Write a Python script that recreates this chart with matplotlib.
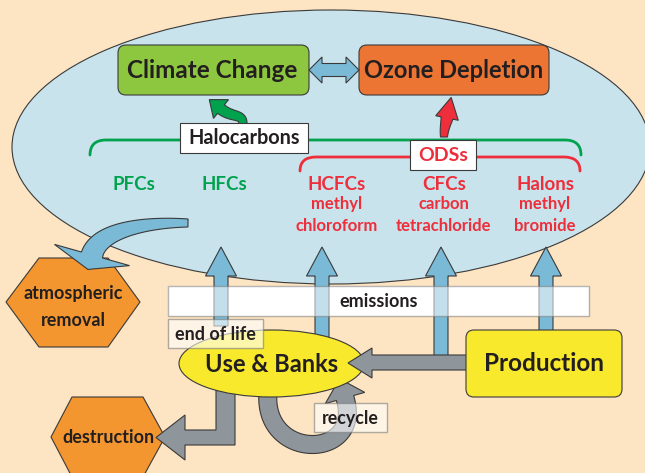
import numpy as np
import matplotlib
matplotlib.use("Agg")
import matplotlib.pyplot as plt
from matplotlib.patches import Ellipse, FancyBboxPatch, Polygon, Rectangle, PathPatch
from matplotlib.path import Path

plt.rcParams['font.family'] = ['Lato', 'DejaVu Sans']

# --- labels of the diagram ---
effects = ["Climate Change", "Ozone Depletion"]
groups = ["Halocarbons", "ODSs"]
gases = ["PFCs", "HFCs", "HCFCs", "CFCs", "Halons"]
gas_sub1 = ["", "", "methyl", "carbon", "methyl"]
gas_sub2 = ["", "", "chloroform", "tetrachloride", "bromide"]
gas_is_ods = [False, False, True, True, True]
stocks = ["Use & Banks", "Production"]
sinks = [["atmospheric", "removal"], ["destruction"]]
flows = ["emissions", "end of life", "recycle"]

# --- colours ---
BG = "#FDE4C2"
SKY = "#C9E3EC"
BLUE = "#7BBAD6"
GREEN_BOX = "#8DC63F"
ORANGE_BOX = "#EC7534"
HEX = "#F3962F"
YELLOW = "#F8E92C"
GREY = "#8E959B"
GREEN = "#00A24E"
RED = "#EE2E3B"
INK = "#231F20"
EDGE = "#3A3A3A"


def bez(p, n=80):
    p = np.asarray(p, float)
    t = np.linspace(0, 1, n)[:, None]
    return ((1 - t) ** 3 * p[0] + 3 * (1 - t) ** 2 * t * p[1]
            + 3 * (1 - t) * t ** 2 * p[2] + t ** 3 * p[3])


def thick_arrow(ax, ctrl, w0, w1, head_w, head_len, color, z, alpha=1.0):
    # shaft follows a cubic bezier, head continues along the last tangent
    c = bez(ctrl)
    d = np.gradient(c, axis=0)
    d /= np.linalg.norm(d, axis=1)[:, None]
    nrm = np.column_stack([-d[:, 1], d[:, 0]])
    w = np.linspace(w0, w1, len(c))[:, None] / 2
    left = c + nrm * w
    right = c - nrm * w
    end, tan, nn = c[-1], d[-1], nrm[-1]
    tip = end + tan * head_len
    pts = np.vstack([left, end + nn * head_w / 2, tip, end - nn * head_w / 2, right[::-1]])
    ax.add_patch(Polygon(pts, closed=True, fc=color, ec=EDGE, lw=0.8, zorder=z, alpha=alpha,
                         joinstyle="miter"))


def box_text(ax, x, y, s, size, color=INK, z=10, weight="bold"):
    ax.text(x, y, s, ha="center", va="center", fontsize=size, color=color,
            fontweight=weight, zorder=z)


fig = plt.figure(figsize=(6.45, 4.73), dpi=100)
fig.patch.set_facecolor(BG)
ax = fig.add_axes([0, 0, 1, 1])
ax.set_xlim(0, 645)
ax.set_ylim(473, 0)
ax.axis("off")
ax.set_facecolor(BG)

# atmosphere
ax.add_patch(Ellipse((331, 147), 638, 274, fc=SKY, ec=EDGE, lw=0.8, zorder=1))

# effect boxes
ax.add_patch(FancyBboxPatch((118, 45), 191, 50, boxstyle="round,pad=0,rounding_size=8",
                            fc=GREEN_BOX, ec=EDGE, lw=0.8, zorder=3))
ax.add_patch(FancyBboxPatch((359, 45), 190, 50, boxstyle="round,pad=0,rounding_size=8",
                            fc=ORANGE_BOX, ec=EDGE, lw=0.8, zorder=3))
box_text(ax, 212, 70, effects[0], 17.5)
box_text(ax, 454, 70, effects[1], 17)

# double arrow between effects
dbl = [(309, 70), (322, 57), (322, 63.5), (346, 63.5), (346, 57), (359, 70),
       (346, 83), (346, 76.5), (322, 76.5), (322, 83)]
ax.add_patch(Polygon(dbl, closed=True, fc=BLUE, ec=EDGE, lw=0.8, zorder=4))

# braces
gb = Path([(90, 155), (90, 140), (106, 140), (565, 140), (581, 140), (581, 155)],
          [Path.MOVETO, Path.CURVE3, Path.CURVE3, Path.LINETO, Path.CURVE3, Path.CURVE3])
ax.add_patch(PathPatch(gb, fc="none", ec=GREEN, lw=2.0, zorder=3, capstyle="round"))
rb = Path([(300, 171), (300, 157), (316, 157), (564, 157), (580, 157), (580, 171)],
          [Path.MOVETO, Path.CURVE3, Path.CURVE3, Path.LINETO, Path.CURVE3, Path.CURVE3])
ax.add_patch(PathPatch(rb, fc="none", ec=RED, lw=2.0, zorder=3, capstyle="round"))

# group arrows
thick_arrow(ax, [(243, 124), (243, 113), (232, 118), (221, 109)], 8, 11, 24, 15, GREEN, 4)
thick_arrow(ax, [(444, 137), (444, 129), (446, 123), (447, 118)], 7, 12, 23, 21, RED, 4)

# group labels
ax.add_patch(Rectangle((180, 123), 128, 30, fc="white", ec=EDGE, lw=0.8, zorder=5))
box_text(ax, 244, 138, groups[0], 14.3, z=6)
ax.add_patch(Rectangle((410, 140), 66, 30, fc="white", ec=EDGE, lw=0.8, zorder=5))
box_text(ax, 443, 155, groups[1], 14, color=RED, z=6)

# gas families
gas_x = [134, 224, 337, 444, 545]
for gx, name, s1, s2, ods in zip(gas_x, gases, gas_sub1, gas_sub2, gas_is_ods):
    col = RED if ods else GREEN
    box_text(ax, gx, 184, name, 13.5, color=col)
    if s1:
        box_text(ax, gx, 204, s1, 12, color=col)
        box_text(ax, gx, 226, s2, 12, color=col)

# atmospheric removal
hex1 = [(6, 302), (39, 258), (108, 258), (140, 302), (108, 347), (39, 347)]
ax.add_patch(Polygon(hex1, closed=True, fc=HEX, ec=EDGE, lw=0.8, zorder=3))
box_text(ax, 73, 293, sinks[0][0], 13)
box_text(ax, 73, 320, sinks[0][1], 13)
thick_arrow(ax, [(188, 223), (140, 222), (98, 232), (92, 255)], 8, 22, 78, 15, BLUE, 4)

# emissions arrows
up_x = [221, 322, 441, 546]
up_bottom = [326, 338, 356, 331]
for ux, ub in zip(up_x, up_bottom):
    thick_arrow(ax, [(ux, ub), (ux, ub - 10), (ux, 290), (ux, 276)], 14, 14, 31, 29, BLUE, 4)

ax.add_patch(Rectangle((168, 286), 421, 30, fc="white", ec="none", zorder=3))
ax.add_patch(Rectangle((168, 286), 421, 30, fc="white", ec="#7A7A7A", lw=1.0, alpha=0.55, zorder=5))
box_text(ax, 379, 301, flows[0], 13, z=6)

# destruction
hex2 = [(51, 437), (72, 397), (143, 397), (165, 437), (143, 477), (72, 477)]
ax.add_patch(Polygon(hex2, closed=True, fc=HEX, ec=EDGE, lw=0.8, zorder=3))
box_text(ax, 108, 437, sinks[1][0], 13)
lshape = [(216, 385), (235, 385), (235, 445), (185, 445), (185, 460), (156, 437.5),
          (185, 415), (185, 430), (216, 430)]
ax.add_patch(Polygon(lshape, closed=True, fc=GREY, ec=EDGE, lw=0.8, zorder=4))

# recycle loop
thick_arrow(ax, [(268, 392), (262, 462), (364, 460), (345, 398)], 18, 18, 41, 20, GREY, 4)

# use & banks
ax.add_patch(Ellipse((271.5, 363.5), 185, 67, fc=YELLOW, ec=EDGE, lw=0.8, zorder=6))
box_text(ax, 271.5, 364, stocks[0], 17, z=8)

# production feed
feed = [(470, 355), (372, 355), (372, 348), (348, 363), (372, 378), (372, 370), (470, 370)]
ax.add_patch(Polygon(feed, closed=True, fc=GREY, ec=EDGE, lw=0.8, zorder=7))
ax.add_patch(FancyBboxPatch((466, 330), 156, 67, boxstyle="round,pad=0,rounding_size=8",
                            fc=YELLOW, ec=EDGE, lw=0.8, zorder=8))
box_text(ax, 544, 363, stocks[1], 17.5, z=9)

# flow labels
ax.add_patch(Rectangle((168, 319), 95, 29, fc="white", ec="#7A7A7A", lw=1.0, alpha=0.6, zorder=9))
box_text(ax, 215, 334, flows[1], 13, z=10)
ax.add_patch(Rectangle((314, 403), 73, 29, fc="white", ec="#7A7A7A", lw=1.0, alpha=0.6, zorder=9))
box_text(ax, 350, 418, flows[2], 12.8, z=10)

fig.savefig("out.png", dpi=100, facecolor=BG)
